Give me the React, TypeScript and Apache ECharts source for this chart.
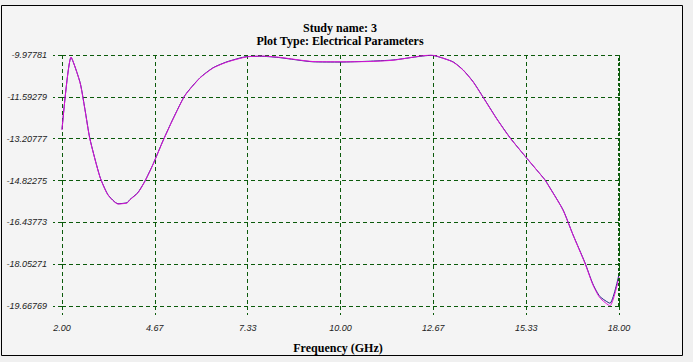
import React, { useEffect, useRef } from "react";
import * as echarts from "echarts";

const titleLine1 = "Study name: 3";
const titleLine2 = "Plot Type: Electrical Parameters";
const xAxisName = "Frequency (GHz)";
const xTicks = [2.0, 4.6667, 7.3333, 10.0, 12.6667, 15.3333, 18.0];
const yTicks = [-19.66769, -18.05271, -16.43773, -14.82275, -13.20777, -11.59279, -9.97781];

const freq = [2.0, 2.26, 2.52, 2.66, 2.8, 3.09, 3.32, 3.61, 3.87, 3.95, 4.18, 4.38, 4.61, 4.9, 5.19, 5.53, 5.96, 6.34, 6.74, 7.31, 7.77, 8.26, 9.21, 10.0, 10.8, 11.51, 12.28, 12.6, 12.77, 13.23, 13.52, 13.81, 14.09, 14.49, 14.87, 15.36, 15.87, 15.96, 16.39, 16.68, 17.02, 17.25, 17.45, 17.74, 18.0];
const magentaValues = [-12.87, -10.06, -11.06, -12.1, -13.22, -14.69, -15.38, -15.73, -15.69, -15.57, -15.3, -14.86, -14.22, -13.3, -12.45, -11.55, -10.87, -10.48, -10.25, -10.05, -10.02, -10.07, -10.23, -10.24, -10.23, -10.18, -10.02, -9.98, -10.02, -10.25, -10.56, -11.02, -11.6, -12.45, -13.18, -13.97, -14.8, -14.99, -15.96, -16.93, -18.01, -18.85, -19.35, -19.66, -18.55];
const navyValues = [-12.85, -10.07, -11.04, -12.08, -13.2, -14.68, -15.37, -15.72, -15.68, -15.56, -15.29, -14.85, -14.21, -13.29, -12.44, -11.54, -10.86, -10.47, -10.24, -10.04, -10.03, -10.08, -10.24, -10.25, -10.22, -10.17, -10.03, -9.99, -10.03, -10.24, -10.55, -11.01, -11.59, -12.44, -13.17, -13.98, -14.79, -14.98, -15.95, -16.92, -17.99, -18.82, -19.3, -19.56, -18.45];

const gridColor = "#0b5a0b";

export default function App() {
  const ref = useRef<HTMLDivElement>(null);
  useEffect(() => {
    const chart = echarts.init(ref.current!, null, { renderer: "svg" });
    const labelFont = {
      fontFamily: "Liberation Sans",
      fontStyle: "italic" as const,
      fontSize: 9,
      color: "#222",
    };
    const titleFont = "bold 12px 'Liberation Serif'";
    chart.setOption({
      animation: false,
      backgroundColor: "#f0f0f0",
      graphic: [
        {
          type: "rect",
          z: -10,
          silent: true,
          shape: { x: 1.5, y: 5.5, width: 681, height: 350 },
          style: { fill: "#f4f4f4", stroke: "#000", lineWidth: 1 },
        },
        {
          type: "text",
          x: 340,
          y: 27.5,
          style: { text: titleLine1, font: titleFont, fill: "#000", align: "center", verticalAlign: "middle" },
        },
        {
          type: "text",
          x: 340,
          y: 40.5,
          style: { text: titleLine2, font: titleFont, fill: "#000", align: "center", verticalAlign: "middle" },
        },
        {
          type: "text",
          x: 338,
          y: 348,
          style: { text: xAxisName, font: titleFont, fill: "#000", align: "center", verticalAlign: "middle" },
        },
      ],
      grid: { left: 62, right: 74, top: 55, bottom: 56, containLabel: false },
      xAxis: {
        type: "value",
        min: 2,
        max: 18,
        axisLine: { show: false },
        axisTick: {
          show: true,
          length: 9,
          customValues: xTicks,
          lineStyle: { color: gridColor, type: [4, 3] },
        },
        axisLabel: {
          ...labelFont,
          customValues: xTicks,
          margin: 17,
          formatter: (v: number) => v.toFixed(2),
        },
        splitLine: { show: true, lineStyle: { color: gridColor, type: [4, 3], width: 1 } },
      },
      yAxis: {
        type: "value",
        min: yTicks[0],
        max: yTicks[yTicks.length - 1],
        axisLine: { show: false },
        axisTick: {
          show: true,
          length: 9,
          customValues: yTicks,
          lineStyle: { color: gridColor, type: [4, 3] },
        },
        axisLabel: {
          ...labelFont,
          customValues: yTicks,
          margin: 15,
          formatter: (v: number) => v.toFixed(5),
        },
        splitLine: { show: true, lineStyle: { color: gridColor, type: [4, 3], width: 1 } },
      },
      series: [
        {
          type: "line",
          data: freq.map((f, i) => [f, navyValues[i]]),
          showSymbol: false,
          smooth: 0.2,
          lineStyle: { color: "#1c1c80", width: 1 },
          markLine: {
            silent: true,
            symbol: "none",
            label: { show: false },
            lineStyle: { color: gridColor, type: [3, 2], width: 2 },
            data: [{ xAxis: 18 }],
          },
        },
        {
          type: "line",
          data: freq.map((f, i) => [f, magentaValues[i]]),
          showSymbol: false,
          smooth: 0.2,
          lineStyle: { color: "#e010d8", width: 1 },
        },
      ],
    });
    return () => chart.dispose();
  }, []);
  return (
    <div
      ref={ref}
      style={{ position: "fixed", left: 0, top: 0, width: 693, height: 362 }}
    />
  );
}
